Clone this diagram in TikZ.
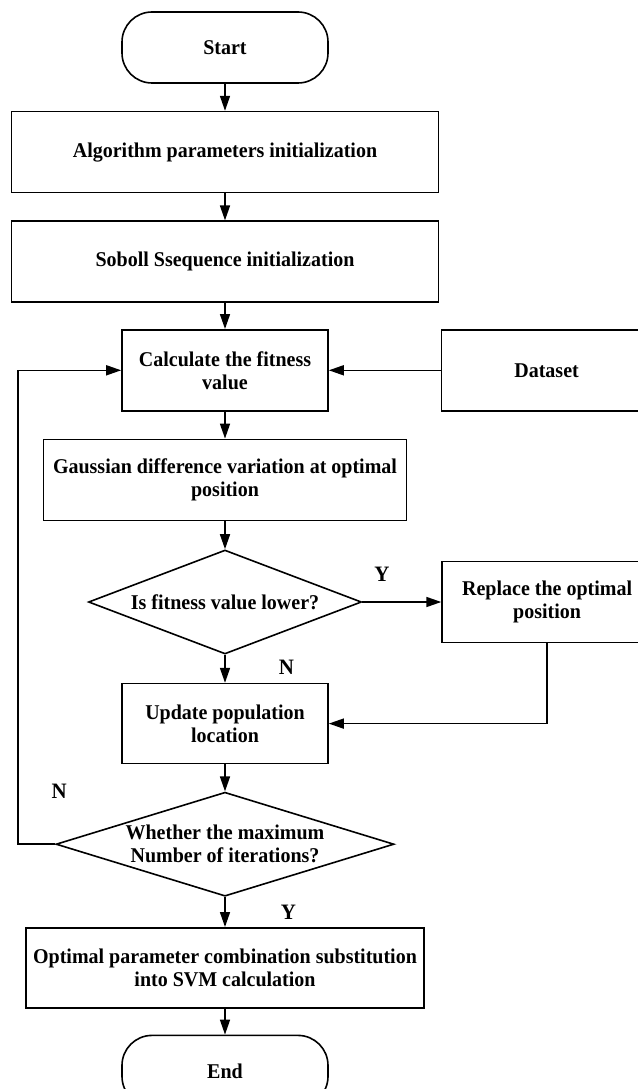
\documentclass[tikz,border=0pt]{standalone}
\usepackage{fontspec}
\setmainfont{Liberation Serif}[FakeStretch=0.952]
\usetikzlibrary{shapes.geometric, arrows.meta, positioning}
\tikzstyle{fc.terminal} = [rectangle, rounded corners=30pt, draw=black, line width=1.6pt, minimum width=206pt, minimum height=71pt, inner sep=0pt]
\tikzstyle{fc.process} = [rectangle, draw=black, line width=1.6pt, minimum height=81pt, inner sep=0pt, align=center]
\tikzstyle{fc.decision} = [diamond, draw=black, line width=1.6pt, minimum height=104pt, inner sep=0pt, align=center]
\tikzstyle{fc.flow} = [-{Triangle[length=15pt,width=10pt]}, line width=1.6pt, black]
\tikzstyle{fc.label} = [inner sep=0pt, font=\bfseries\fontsize{22}{22}\selectfont]

\begin{document}
\begin{tikzpicture}[x=1pt, y=-1pt, node distance=27pt, font=\bfseries\fontsize{21}{23}\selectfont]
\useasboundingbox (0,0) rectangle (637,1089);
\node[fc.terminal] (start) at (225,47.5) {Start};
\node[fc.process, minimum width=427pt, below=of start] (init) {Algorithm parameters initialization};
\node[fc.process, minimum width=427pt, below=of init] (sobol) {Soboll Ssequence initialization};
\node[fc.process, minimum width=206pt, below=26pt of sobol] (fitness) {Calculate the fitness\\value};
\node[fc.process, minimum width=210pt, right=112pt of fitness] (dataset) {Dataset};
\node[fc.process, minimum width=363pt, below=of fitness] (gauss) {Gaussian difference variation at optimal\\position};
\node[fc.decision, aspect=2.6, minimum width=273pt, below=28pt of gauss] (lower) {Is fitness value lower?};
\node[fc.process, minimum width=210pt, right=79pt of lower] (replace) {Replace the optimal\\position};
\node[fc.process, minimum width=206pt, minimum height=80pt, below=28pt of lower] (update) {Update population\\location};
\node[fc.decision, aspect=3.25, minimum width=338pt, below=of update] (maxiter) {Whether the maximum\\Number of iterations?};
\node[fc.process, minimum width=398pt, minimum height=80pt, below=30pt of maxiter] (svm) {Optimal parameter combination substitution\\into SVM calculation};
\node[fc.terminal, below=26pt of svm] (end) {End};
\coordinate[left=37pt of maxiter.west] (loop);

\draw[fc.flow] (start) -- (init);
\draw[fc.flow] (init) -- (sobol);
\draw[fc.flow] (sobol) -- (fitness);
\draw[fc.flow] (dataset) -- (fitness);
\draw[fc.flow] (fitness) -- (gauss);
\draw[fc.flow] (gauss) -- (lower);
\draw[fc.flow] (lower) -- node[fc.label, pos=0.25, above=20pt] {Y} (replace);
\draw[fc.flow] (replace) |- (update);
\draw[fc.flow] (lower) -- node[fc.label, pos=0.43, right=53pt] {N} (update);
\draw[fc.flow] (update) -- (maxiter);
\draw[fc.flow] (maxiter.west) -- node[fc.label, pos=0, above=45pt, xshift=4pt] {N} (loop) |- (fitness);
\draw[fc.flow] (maxiter) -- node[fc.label, right=55pt] {Y} (svm);
\draw[fc.flow] (svm) -- (end);
\end{tikzpicture}
\end{document}
